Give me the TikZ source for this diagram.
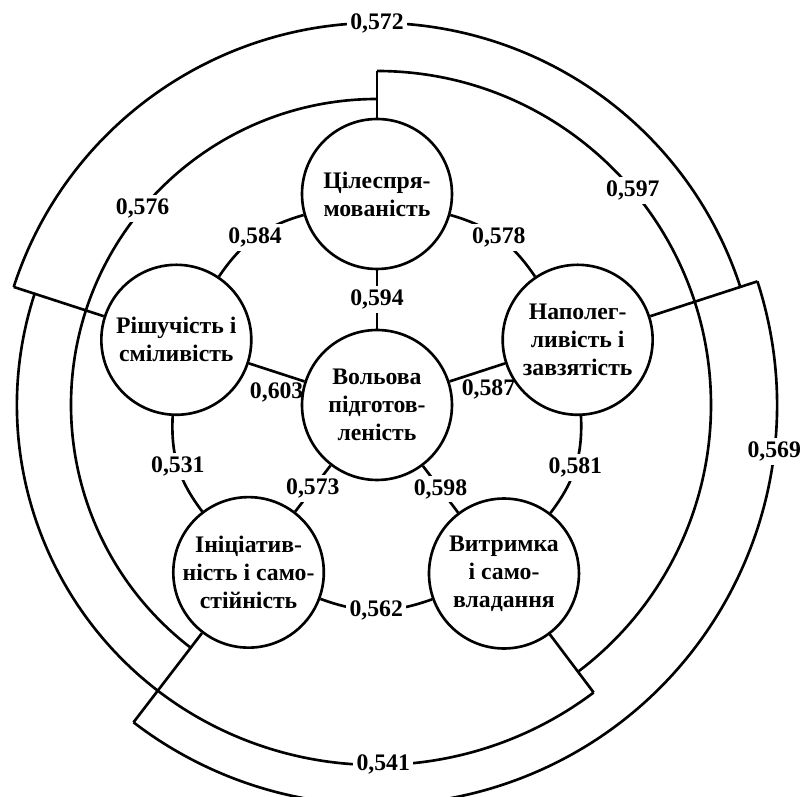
\documentclass[tikz,border=0pt]{standalone}
\usepackage{fontspec}
\setmainfont{Liberation Serif}
\usetikzlibrary{calc}

\begin{document}
\begin{tikzpicture}[x=0.02cm, y=0.02cm, line width=1.5pt,
  font=\fontsize{13.5}{16}\selectfont\bfseries,
  nd/.style={draw, circle, fill=white, minimum size=3cm, inner sep=0pt, align=center},
  lb/.style={fill=white, inner sep=2pt}]
\useasboundingbox (-377,-392) rectangle (432,405);

\node[nd](vol) at (0,0) {Вольова\\підготов-\\леність};
\node[nd](cil) at (90:211) {Цілеспря-\\мованість};
\node[nd](nap) at (18:211) {Наполег-\\ливість і\\завзятість};
\node[nd](vyt) at (-53:211) {Витримка\\і само-\\владання};
\node[nd](ini) at (232.5:211) {Ініціатив-\\ність і само-\\стійність};
\node[nd](rish) at (162:211) {Рішучість і\\сміливість};

\foreach \a/\b/\w in {cil/rish/0{,}584, rish/ini/0{,}531, ini/vyt/0{,}562, vyt/nap/0{,}581, nap/cil/0{,}578}{
  \draw(\a) to[bend right=20] node[lb]{\w} (\b);}

\draw(vol) -- node[lb]{0,594} (cil);
\draw(vol) -- node[lb]{0,573} (ini);
\draw(vol) -- node[lb]{0,598} (vyt);
\draw(vol) -- node[below=2pt]{0,603} (rish);
\draw(vol) -- node[pos=0.7, below=2pt]{0,587} (nap);

\coordinate (c1) at (90:306);
\coordinate (c2) at (90:334);
\coordinate (n2) at (18:400);
\coordinate (v1) at (-53:360);
\coordinate (i1) at (232.5:400);
\coordinate (r1) at (162:360);
\coordinate (r2) at (162:382);

\draw(cil) -- (c2);
\draw(nap) -- (n2);
\draw(vyt) -- (v1);
\draw(ini) -- (i1);
\draw(rish) -- (r2);

\draw(c1) arc[start angle=90, end angle=232.5, radius=306];
\draw(c2) arc[start angle=90, end angle=-53, radius=334];
\draw(r2) arc[start angle=162, end angle=18, radius=382];
\draw(r1) arc[start angle=162, end angle=307, radius=360];
\draw(n2) arc[start angle=18, end angle=-127.5, radius=400];

\node[lb](k572) at (90:382) {0,572};
\node[lb](k576) at (140:306) {0,576};
\node[lb](k597) at (40:334) {0,597};
\node[lb](k569) at (-6.7:400) {0,569};
\node[lb](k541) at (-89:360) {0,541};

\end{tikzpicture}
\end{document}
